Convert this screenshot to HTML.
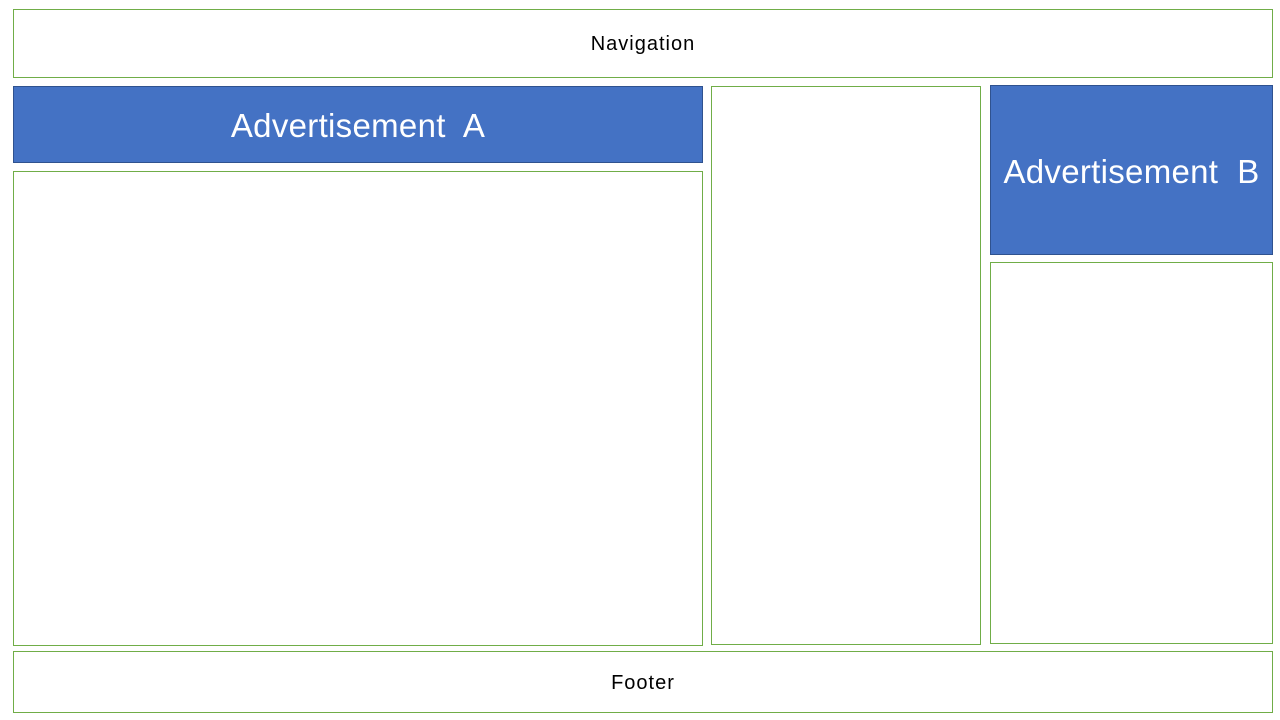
<!DOCTYPE html>
<html><head><style>
body{margin:0;width:1280px;height:720px;background:#fff;position:relative;overflow:hidden;font-family:"Liberation Sans",sans-serif}
div{position:absolute;box-sizing:border-box;display:flex;align-items:center;justify-content:center}
.g{border:1px solid #70AD47;background:#fff;color:#000;font-size:20px;letter-spacing:1px;padding-top:2px}
.b{border:1px solid #2F528F;background:#4472C4;color:#fff;font-size:33px;letter-spacing:0.3px;padding-top:3px}
</style></head><body>
<div class="g" style="left:13px;top:9px;width:1260px;height:69px">Navigation</div>
<div class="b" style="left:13px;top:86px;width:690px;height:77px">Advertisement&nbsp; A</div>
<div class="g" style="left:13px;top:171px;width:690px;height:475px"></div>
<div class="g" style="left:711px;top:86px;width:270px;height:559px"></div>
<div class="b" style="left:990px;top:85px;width:283px;height:170px">Advertisement&nbsp; B</div>
<div class="g" style="left:990px;top:262px;width:283px;height:382px"></div>
<div class="g" style="left:13px;top:651px;width:1260px;height:62px">Footer</div>
</body></html>
